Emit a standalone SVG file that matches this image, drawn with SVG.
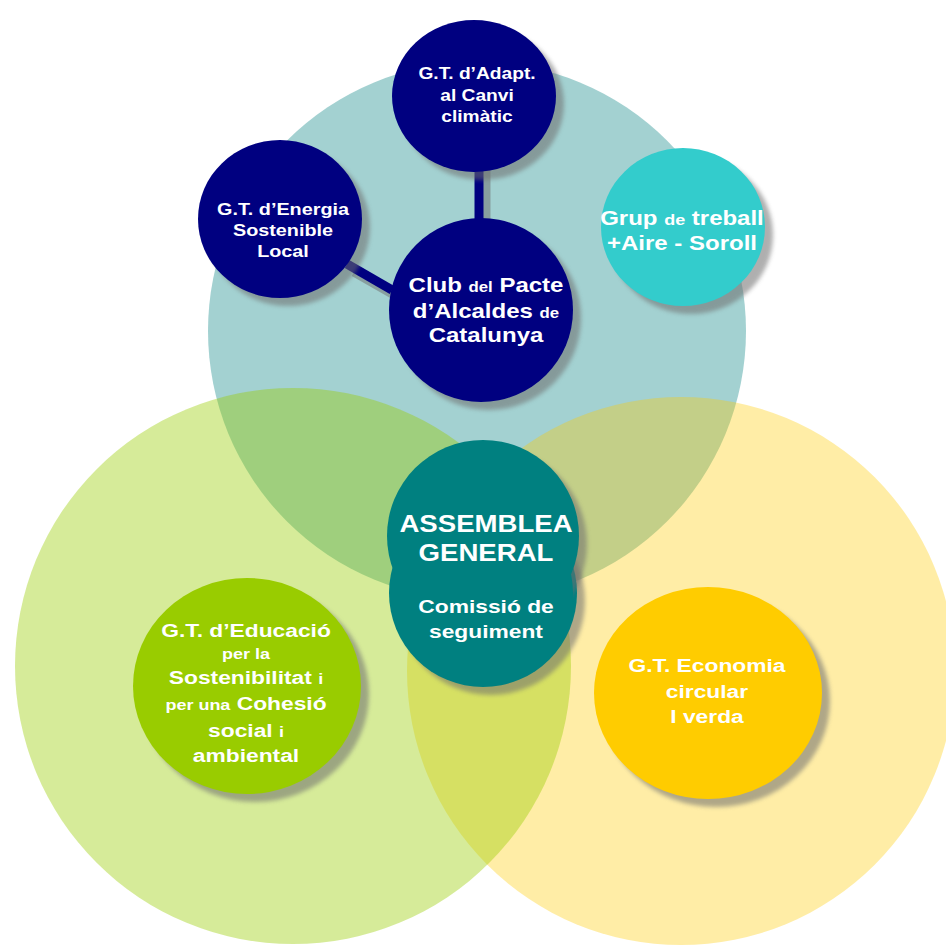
<svg xmlns="http://www.w3.org/2000/svg" width="946" height="952" viewBox="0 0 946 952">
<defs>
<filter id="blur" x="-20%" y="-20%" width="140%" height="140%"><feGaussianBlur stdDeviation="2"/></filter>
</defs>
<style>
.t{font-family:"Liberation Sans",Arial,sans-serif;font-weight:bold;fill:#fff;text-anchor:middle}
.sh{fill:#6e6e6e;opacity:.55;filter:url(#blur)}
.navy{fill:#000080}
</style>
<rect width="946" height="952" fill="#fff"/>
<g id="big-circles">
<circle cx="477" cy="331" r="269" fill="#339999" opacity="0.45"/>
<circle cx="681" cy="671" r="274" fill="#ffcc00" opacity="0.35"/>
<circle cx="293" cy="666" r="278" fill="#99cc00" opacity="0.4"/>
</g>
<g id="connectors">
<line x1="486" y1="168" x2="486" y2="225" stroke="#6e6e6e" stroke-width="9" opacity=".5"/>
<line x1="354" y1="272" x2="396" y2="296" stroke="#6e6e6e" stroke-width="9" opacity=".5"/>
<line x1="479" y1="165" x2="479" y2="222" stroke="#000080" stroke-width="9"/>
<line x1="347" y1="264" x2="392" y2="290" stroke="#000080" stroke-width="9"/>
</g>
<g id="adapt">
<ellipse class="sh" cx="482" cy="104" rx="82" ry="76"/>
<ellipse class="navy" cx="474" cy="96" rx="82" ry="76"/>
<g transform="translate(477,0) scale(1.2,1)"><text class="t" font-size="16"><tspan x="0" y="79">G.T. d’Adapt.</tspan><tspan x="0" y="101">al Canvi</tspan><tspan x="0" y="122">climàtic</tspan></text></g>
</g>
<g id="energia">
<ellipse class="sh" cx="288" cy="227" rx="82" ry="79"/>
<ellipse class="navy" cx="280" cy="219" rx="82" ry="79"/>
<g transform="translate(283,0) scale(1.2,1)"><text class="t" font-size="16.5"><tspan x="0" y="215">G.T. d’Energia</tspan><tspan x="0" y="236">Sostenible</tspan><tspan x="0" y="257">Local</tspan></text></g>
</g>
<g id="club">
<circle class="sh" cx="489" cy="318" r="92"/>
<circle class="navy" cx="481" cy="310" r="92"/>
<g transform="translate(486,0) scale(1.2,1)"><text class="t" font-size="20"><tspan x="0" y="292">Club <tspan font-size="14">del</tspan> Pacte</tspan><tspan x="0" y="318">d’Alcaldes <tspan font-size="14">de</tspan></tspan><tspan x="0" y="342">Catalunya</tspan></text></g>
</g>
<g id="grup">
<ellipse class="sh" cx="691" cy="235" rx="82" ry="79"/>
<ellipse cx="683" cy="227" rx="82" ry="79" fill="#33cccc"/>
<g transform="translate(682,0) scale(1.2,1)"><text class="t" font-size="20"><tspan x="0" y="225">Grup <tspan font-size="15">de</tspan> treball</tspan><tspan x="0" y="250">+Aire - Soroll</tspan></text></g>
</g>
<g id="assemblea">
<circle class="sh" cx="491" cy="601" r="94"/>
<circle cx="483" cy="593" r="94" fill="#008080"/>
<circle class="sh" cx="491" cy="544" r="96"/>
<circle cx="483" cy="536" r="96" fill="#008080"/>
<circle cx="483" cy="593" r="90" fill="#008080"/>
<g transform="translate(486,0) scale(1.2,1)"><text class="t" font-size="23"><tspan x="0" y="532">ASSEMBLEA</tspan><tspan x="0" y="561">GENERAL</tspan></text>
<text class="t" font-size="19"><tspan x="0" y="613">Comissió de</tspan><tspan x="0" y="638">seguiment</tspan></text></g>
</g>
<g id="educacio">
<ellipse class="sh" cx="255" cy="694" rx="114" ry="108"/>
<ellipse cx="247" cy="686" rx="114" ry="108" fill="#99cc00"/>
<g transform="translate(246,0) scale(1.2,1)"><text class="t" font-size="19"><tspan x="0" y="637">G.T. d’Educació</tspan><tspan x="0" y="659" font-size="15">per la</tspan><tspan x="0" y="684">Sostenibilitat <tspan font-size="15">i</tspan></tspan><tspan x="0" y="710"><tspan font-size="15">per una</tspan> Cohesió</tspan><tspan x="0" y="737">social <tspan font-size="15">i</tspan></tspan><tspan x="0" y="762">ambiental</tspan></text></g>
</g>
<g id="economia">
<ellipse class="sh" cx="716" cy="701" rx="114" ry="106"/>
<ellipse cx="708" cy="693" rx="114" ry="106" fill="#ffcc00"/>
<g transform="translate(707,0) scale(1.2,1)"><text class="t" font-size="19"><tspan x="0" y="672">G.T. Economia</tspan><tspan x="0" y="698">circular</tspan><tspan x="0" y="723">I verda</tspan></text></g>
</g>
</svg>
